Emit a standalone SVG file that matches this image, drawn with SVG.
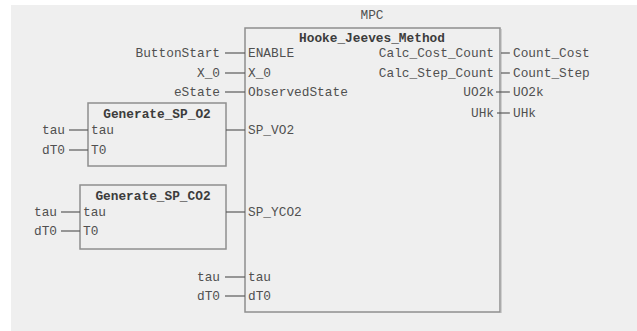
<svg xmlns="http://www.w3.org/2000/svg" width="637" height="331" viewBox="0 0 637 331">
<style>
.box{fill:#efefef;stroke:#8f8f8f;stroke-width:1.5}
.t{font-family:"Liberation Mono","DejaVu Sans Mono",monospace;font-size:12.8px;fill:#505050}
.b{font-weight:bold;fill:#3c3c3c}
.e{text-anchor:end}
.m{text-anchor:middle}
.w{stroke:#5a5a5a;stroke-width:1.2;fill:none}
</style>
<rect x="0" y="0" width="637" height="331" fill="#ffffff"/>
<rect x="11" y="5" width="626" height="326" fill="#efefef"/>

<g id="mpc">
<text class="t m" x="372" y="19">MPC</text>
<rect class="box" x="245" y="28" width="255" height="284"/>
<line x1="501" y1="29" x2="501" y2="313" stroke="#b0b0b0" stroke-width="1"/>
<text class="t b m" x="372" y="42">Hooke_Jeeves_Method</text>
<text class="t" x="248" y="57">ENABLE</text>
<text class="t" x="248" y="77">X_0</text>
<text class="t" x="248" y="96">ObservedState</text>
<text class="t" x="248" y="134">SP_VO2</text>
<text class="t" x="248" y="216">SP_YCO2</text>
<text class="t" x="248" y="281">tau</text>
<text class="t" x="248" y="300">dT0</text>
<text class="t e" x="494" y="57">Calc_Cost_Count</text>
<text class="t e" x="494" y="77">Calc_Step_Count</text>
<text class="t e" x="494" y="96">UO2k</text>
<text class="t e" x="494" y="117">UHk</text>
</g>

<g id="gen_sp_o2">
<rect class="box" x="88" y="103" width="138" height="63"/>
<text class="t b m" x="157" y="118">Generate_SP_O2</text>
<text class="t" x="91" y="134">tau</text>
<text class="t" x="91" y="154">T0</text>
</g>

<g id="gen_sp_co2">
<rect class="box" x="80" y="185" width="146" height="64"/>
<text class="t b m" x="153" y="200">Generate_SP_CO2</text>
<text class="t" x="83" y="216">tau</text>
<text class="t" x="83" y="235">T0</text>
</g>

<g id="variables">
<text class="t e" x="220" y="57">ButtonStart</text>
<text class="t e" x="220" y="77">X_0</text>
<text class="t e" x="220" y="96">eState</text>
<text class="t e" x="220" y="281">tau</text>
<text class="t e" x="220" y="300">dT0</text>
<text class="t e" x="65" y="134">tau</text>
<text class="t e" x="65" y="154">dT0</text>
<text class="t e" x="57" y="216">tau</text>
<text class="t e" x="57" y="235">dT0</text>
<text class="t" x="513" y="57">Count_Cost</text>
<text class="t" x="513" y="77">Count_Step</text>
<text class="t" x="513" y="96">UO2k</text>
<text class="t" x="513" y="117">UHk</text>
</g>

<g id="connectors" class="w">
<line x1="225" y1="53" x2="245" y2="53"/>
<line x1="225" y1="73" x2="245" y2="73"/>
<line x1="225" y1="92" x2="245" y2="92"/>
<line x1="225" y1="277" x2="245" y2="277"/>
<line x1="225" y1="296" x2="245" y2="296"/>
<line x1="226" y1="130" x2="245" y2="130"/>
<line x1="226" y1="212" x2="245" y2="212"/>
<line x1="69" y1="130" x2="88" y2="130"/>
<line x1="69" y1="150" x2="88" y2="150"/>
<line x1="61" y1="212" x2="80" y2="212"/>
<line x1="61" y1="231" x2="80" y2="231"/>
<line x1="501" y1="53" x2="510" y2="53"/>
<line x1="501" y1="73" x2="510" y2="73"/>
<line x1="496" y1="92" x2="510" y2="92"/>
<line x1="497" y1="113" x2="510" y2="113"/>
</g>
</svg>
